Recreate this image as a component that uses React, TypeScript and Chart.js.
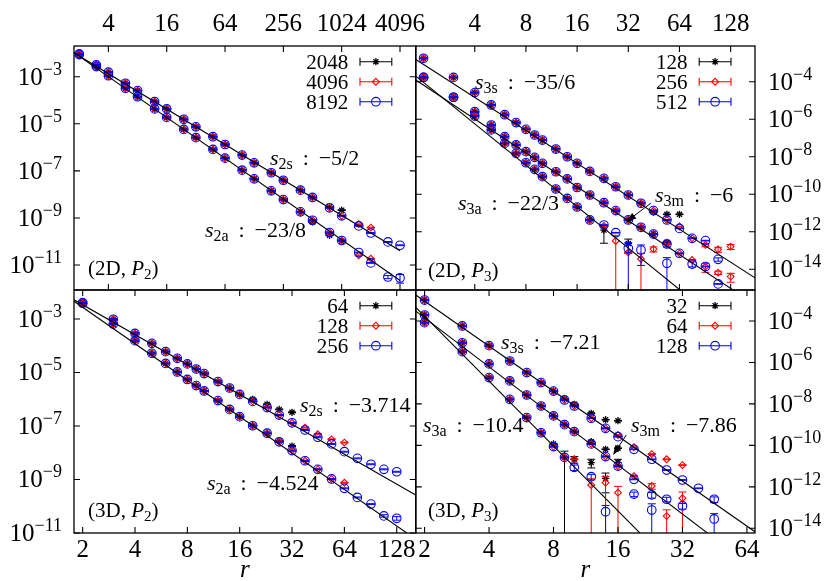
import React, { useEffect, useRef } from 'react';
import { Chart, registerables } from 'chart.js';

Chart.register(...registerables);

const FONT = '"Liberation Serif", "DejaVu Serif", serif';
const W = 830;
const H = 581;

// ---------------- axis ranges & tick labels ----------------
const tlXRange = [1.766, 5963];
const tlYExp = [-12.062, -1.696];
const trXRange = [1.80, 178];
const trYExp = [-15.103, -2.097];
const blXRange = [1.783, 164.8];
const blYExp = [-11.0, -1.916];
const brXRange = [1.82, 69.8];
const brYExp = [-14.227, -2.505];

const tlXTicks = [4, 16, 64, 256, 1024, 4096];
const trXTicks = [4, 8, 16, 32, 64, 128];
const blXTicks = [2, 4, 8, 16, 32, 64, 128];
const brXTicks = [2, 4, 8, 16, 32, 64];
const leftYExps = [-3, -5, -7, -9, -11];
const rightYExps = [-4, -6, -8, -10, -12, -14];

const tlSizes = ['2048', '4096', '8192'];
const trSizes = ['128', '256', '512'];
const blSizes = ['64', '128', '256'];
const brSizes = ['32', '64', '128'];

// ---------------- data (log10 of the plotted value) ----------------
// (2D, P2)
const rTL = [2, 3, 4, 6, 8, 12, 16, 24, 32, 48, 64, 96, 128, 192, 256, 384, 512, 768, 1024, 1536, 2048, 3072, 4096];
const tlS8192 = [-2.03, -2.50, -2.81, -3.28, -3.59, -4.06, -4.37, -4.81, -5.13, -5.55, -5.88, -6.33, -6.66, -7.08, -7.40, -7.82, -8.13, -8.57, -8.91, -9.34, -9.64, -10.02, -10.16];
const tlS4096 = [-2.03, -2.50, -2.81, -3.28, -3.59, -4.06, -4.37, -4.81, -5.13, -5.55, -5.88, -6.33, -6.66, -7.08, -7.40, -7.82, -8.13, -8.57, -8.91, -9.27, -9.41, null, null];
const tlS2048 = [-2.03, -2.50, -2.81, -3.28, -3.59, -4.06, -4.37, -4.81, -5.13, -5.55, -5.88, -6.33, -6.66, -7.08, -7.40, -7.82, -8.13, -8.53, -8.67, null, null, null, null];
const tlA8192 = [-2.06, -2.57, -2.96, -3.49, -3.85, -4.37, -4.73, -5.24, -5.59, -6.09, -6.46, -6.97, -7.34, -7.85, -8.22, -8.74, -9.10, -9.62, -9.96, -10.47, -10.91, -11.51, -11.55];
const tlA4096 = [-2.06, -2.57, -2.96, -3.49, -3.85, -4.37, -4.73, -5.24, -5.59, -6.09, -6.46, -6.97, -7.34, -7.85, -8.22, -8.74, -9.10, -9.62, -9.96, -10.59, -10.73, null, null];
const tlA2048 = [-2.06, -2.57, -2.96, -3.49, -3.85, -4.37, -4.73, -5.24, -5.59, -6.09, -6.46, -6.97, -7.34, -7.85, -8.22, -8.74, -9.17, -9.74, -9.98, null, null, null, null];
const tlA8192Err = [[3072, 0.15], [4096, 0.4]];
const tlSlopes = [-5 / 2, -23 / 8];
const tlAmps = [-1.365, -1.27];

// (2D, P3)
const rTR = [2, 3, 4, 5, 6, 7, 8, 9, 10, 12, 14, 16, 19, 23, 27, 32, 38, 45, 54, 64, 76, 91, 108, 128];
const trS512 = [-2.75, -3.77, -4.58, -5.24, -5.76, -6.18, -6.54, -6.84, -7.11, -7.59, -8.00, -8.35, -8.78, -9.15, -9.60, -10.04, -10.48, -10.87, -11.37, -11.82, -12.35, -12.47, -13.47, null];
const trS256 = [-2.75, -3.77, -4.58, -5.24, -5.76, -6.18, -6.54, -6.84, -7.11, -7.59, -8.00, -8.35, -8.78, -9.15, -9.60, -10.04, -10.48, -10.87, -11.37, -11.72, -12.35, -12.70, -12.94, -12.79];
const trS128 = [-2.75, -3.77, -4.58, -5.24, -5.76, -6.18, -6.54, -6.84, -7.11, -7.59, -8.00, -8.35, -8.78, -9.15, -9.60, -10.04, -10.48, -10.95, -11.07, -11.07, null, null, null, null];
const trM512 = [-3.77, -4.83, -5.60, -6.31, -6.93, -7.37, -7.73, -8.03, -8.35, -8.80, -9.18, -9.64, -10.04, -10.45, -10.87, -11.37, -11.76, -12.12, -12.65, -13.15, -13.72, -13.85, -14.78, null];
const trM256 = [-3.77, -4.83, -5.60, -6.31, -6.93, -7.37, -7.73, -8.03, -8.35, -8.80, -9.18, -9.64, -10.04, -10.45, -10.87, -11.37, -11.76, -12.12, -12.65, -13.15, -13.50, -13.86, -14.18, -14.39];
const trM128 = [-3.77, -4.83, -5.60, -6.31, -6.93, -7.37, -7.73, -8.03, -8.35, -8.80, -9.18, -9.64, -10.04, -10.45, -10.87, -11.37, -11.76, -12.12, -12.56, null, null, null, null, null];
const trA512 = [-3.77, -4.83, -5.83, -6.57, -7.29, -7.82, -8.32, -8.67, -9.06, -9.72, -10.22, -10.68, -11.37, -11.64, -12.05, -12.88, -12.97, null, -13.68, null, null, null, null, null];
const trA256 = [-3.77, -4.83, -5.83, -6.57, -7.29, -7.82, -8.32, -8.67, -9.06, -9.72, -10.22, -10.68, -11.37, -11.69, -12.49, -13.10, -13.45, -12.92, null, null, null, null, null, null];
const trA128 = [-3.77, -4.83, -5.83, -6.57, -7.29, -7.82, -8.32, -8.67, -9.06, -9.72, -10.22, -10.68, -11.37, -11.91, null, -12.62, null, null, null, null, null, null, null, null];
const trS512Err = [[108, 0.2]];
const trS256Err = [[91, 0.2], [108, 0.3], [128, 0.3]];
const trM512Err = [[54, 0.3], [76, 0.3]];
const trM256Err = [[91, 0.5], [108, 0.2], [128, 0.5]];
const trA512Err = [[32, 1.0], [38, 0.85], [54, 1.0]];
const trA256Err = [[27, 1.0], [38, 1.0], [45, 0.3]];
const trA128Err = [[23, 0.8], [32, 0.7]];
const trSlopes = [-35 / 6, -6, -22 / 3];
const trAmps = [-1.327, -2.376, -1.83];

// (3D, P2)
const rBL = [2, 3, 4, 5, 6, 7, 8, 9, 10, 12, 14, 16, 19, 23, 27, 32, 38, 45, 54, 64, 76, 91, 108, 128];
const blS256 = [-2.39, -3.01, -3.54, -3.91, -4.22, -4.47, -4.68, -4.87, -5.04, -5.34, -5.58, -5.82, -6.08, -6.31, -6.59, -6.88, -7.15, -7.42, -7.67, -7.96, -8.21, -8.43, -8.62, -8.71];
const blS128 = [-2.39, -3.01, -3.54, -3.91, -4.22, -4.47, -4.68, -4.87, -5.04, -5.34, -5.58, -5.82, -6.08, -6.31, -6.59, -6.88, -7.06, -7.31, -7.50, -7.62, null, null, null, null];
const blS64 = [-2.39, -3.01, -3.54, -3.91, -4.22, -4.47, -4.68, -4.87, -5.04, -5.34, -5.58, -5.82, -6.00, -6.19, -6.38, -6.49, null, null, null, null, null, null, null, null];
const blA256 = [-2.41, -3.19, -3.81, -4.28, -4.66, -4.98, -5.26, -5.49, -5.69, -6.05, -6.38, -6.65, -6.99, -7.27, -7.59, -7.92, -8.30, -8.62, -8.98, -9.33, -9.67, -9.92, -10.36, -10.45];
const blA128 = [-2.41, -3.19, -3.81, -4.28, -4.66, -4.98, -5.26, -5.49, -5.69, -6.05, -6.38, -6.65, -6.99, -7.27, -7.59, -7.92, -8.30, -8.62, -8.98, -9.12, null, null, null, null];
const blA64 = [-2.41, -3.19, -3.81, -4.28, -4.66, -4.98, -5.26, -5.49, -5.69, -6.05, -6.38, -6.65, -6.99, -7.27, -7.55, -7.75, null, null, null, null, null, null, null, null];
const blA256Err = [[108, 0.1], [128, 0.15]];
const blSlopes = [-3.714, -4.524];
const blAmps = [-1.348, -1.203];

// (3D, P3)
const rBR = [2, 3, 4, 5, 6, 7, 8, 9, 10, 12, 14, 16, 19, 23, 27, 32, 38, 45];
const brS128 = [-2.99, -4.24, -5.19, -5.93, -6.49, -6.97, -7.38, -7.81, -8.10, -8.69, -9.18, -9.58, -10.19, -10.67, -11.19, -11.67, -12.07, -12.60];
const brS64 = [-2.99, -4.24, -5.19, -5.93, -6.49, -6.97, -7.38, -7.81, -8.10, -8.69, -9.18, -9.50, -10.09, -10.42, -10.67, -10.95, null, null];
const brS32 = [-2.99, -4.24, -5.19, -5.93, -6.49, -6.97, -7.38, -7.75, -8.02, -8.45, -8.76, -8.81, null, null, null, null, null, null];
const brM128 = [-3.71, -5.05, -6.07, -6.89, -7.57, -8.10, -8.58, -9.00, -9.34, -9.93, -10.54, -11.00, -11.64, -12.39, -12.60, -12.92, null, -13.55];
const brM64 = [-3.71, -5.05, -6.07, -6.89, -7.57, -8.10, -8.58, -9.00, -9.34, -9.93, -10.54, -11.00, -11.48, -11.96, -13.41, -12.55, null, null];
const brM32 = [-3.71, -5.05, -6.07, -6.89, -7.57, -8.10, -8.58, -9.00, -9.34, -9.82, -10.19, -10.14, null, null, null, null, null, null];
const brA128 = [-4.08, -5.48, -6.73, -7.78, -8.66, -9.39, -10.06, -10.58, -11.06, -11.51, -13.20, null, -12.35, -13.12, null, null, null, null];
const brA64 = [-4.08, -5.48, -6.73, -7.78, -8.66, -9.39, -10.06, -10.58, -10.67, -11.91, -11.80, -12.28, null, null, null, null, null, null];
const brA32 = [-4.08, -5.48, -6.73, -7.78, -8.66, -9.39, -9.93, -10.58, -10.67, -10.83, -11.59, -10.82, null, null, null, null, null, null];
const brS128Err = [[45, 0.3]];
const brM128Err = [[23, 0.3], [27, 0.25], [32, 0.3], [45, 0.8]];
const brM64Err = [[23, 0.3], [27, 1.0], [32, 1.0]];
const brA128Err = [[10, 0.3], [12, 0.3], [14, 1.0], [19, 0.25], [23, 1.0]];
const brA64Err = [[12, 1.0], [14, 1.0], [16, 1.0]];
const brA32Err = [[9, 1.0], [10, 0.35], [12, 0.45], [14, 0.8], [16, 0.4]];
const brSlopes = [-7.21, -7.86, -10.4];
const brAmps = [-0.869, -1.482, -0.64];

// ---------------- styles ----------------
const STYLES: any = {
  black: { color: '#000000', pointStyle: 'star', radius: 3.6, lw: 1.3 },
  red: { color: '#ff0000', pointStyle: 'rectRot', radius: 3.4, lw: 1.1 },
  blue: { color: '#0000ff', pointStyle: 'circle', radius: 4.3, lw: 1.1 },
};
const LEGEND_ORDER = ['black', 'red', 'blue'];

const PANELS: any[] = [
  {
    id: 'tl',
    area: { left: 74, right: 415.8, top: 46, bottom: 290 },
    xRange: tlXRange, yExp: tlYExp, r: rTL,
    xTicks: tlXTicks, xSide: 'top', yTicks: leftYExps, ySide: 'left',
    sizes: tlSizes,
    curves: [
      { black: tlS2048, red: tlS4096, blue: tlS8192, errs: {} },
      { black: tlA2048, red: tlA4096, blue: tlA8192, errs: { blue: tlA8192Err } },
    ],
    fits: [
      { slope: tlSlopes[0], amp: tlAmps[0], hi: 4096 },
      { slope: tlSlopes[1], amp: tlAmps[1], hi: 4096 },
    ],
    notes: [
      { sub: '2s', val: '\u22125/2', x: 270, y: 158 },
      { sub: '2a', val: '\u221223/8', x: 205, y: 230 },
    ],
    tag: { dim: '2D', p: '2', x: 88, y: 268 },
    arrows: [],
  },
  {
    id: 'tr',
    area: { left: 415.8, right: 755, top: 46, bottom: 290 },
    xRange: trXRange, yExp: trYExp, r: rTR,
    xTicks: trXTicks, xSide: 'top', yTicks: rightYExps, ySide: 'right',
    sizes: trSizes,
    curves: [
      { black: trS128, red: trS256, blue: trS512, errs: { blue: trS512Err, red: trS256Err } },
      { black: trM128, red: trM256, blue: trM512, errs: { blue: trM512Err, red: trM256Err } },
      { black: trA128, red: trA256, blue: trA512, errs: { blue: trA512Err, red: trA256Err, black: trA128Err } },
    ],
    fits: [
      { slope: trSlopes[0], amp: trAmps[0] },
      { slope: trSlopes[1], amp: trAmps[1] },
      { slope: trSlopes[2], amp: trAmps[2] },
    ],
    notes: [
      { sub: '3s', val: '\u221235/6', x: 475, y: 82 },
      { sub: '3m', val: '\u22126', x: 655, y: 195 },
      { sub: '3a', val: '\u221222/3', x: 458, y: 203 },
    ],
    tag: { dim: '2D', p: '3', x: 428, y: 270 },
    arrows: [{ x1: 650.7, y1: 203.3, x2: 626.3, y2: 221.7 }],
  },
  {
    id: 'bl',
    area: { left: 74, right: 415.8, top: 290, bottom: 533 },
    xRange: blXRange, yExp: blYExp, r: rBL,
    xTicks: blXTicks, xSide: 'bottom', yTicks: leftYExps, ySide: 'left',
    sizes: blSizes,
    curves: [
      { black: blS64, red: blS128, blue: blS256, errs: {} },
      { black: blA64, red: blA128, blue: blA256, errs: { blue: blA256Err } },
    ],
    fits: [
      { slope: blSlopes[0], amp: blAmps[0] },
      { slope: blSlopes[1], amp: blAmps[1] },
    ],
    notes: [
      { sub: '2s', val: '\u22123.714', x: 300, y: 405 },
      { sub: '2a', val: '\u22124.524', x: 207, y: 483 },
    ],
    tag: { dim: '3D', p: '2', x: 88, y: 510 },
    arrows: [],
    axisLabel: true,
  },
  {
    id: 'br',
    area: { left: 415.8, right: 755, top: 290, bottom: 533 },
    xRange: brXRange, yExp: brYExp, r: rBR,
    xTicks: brXTicks, xSide: 'bottom', yTicks: rightYExps, ySide: 'right',
    sizes: brSizes,
    curves: [
      { black: brS32, red: brS64, blue: brS128, errs: { blue: brS128Err } },
      { black: brM32, red: brM64, blue: brM128, errs: { blue: brM128Err, red: brM64Err } },
      { black: brA32, red: brA64, blue: brA128, errs: { blue: brA128Err, red: brA64Err, black: brA32Err } },
    ],
    fits: [
      { slope: brSlopes[0], amp: brAmps[0] },
      { slope: brSlopes[1], amp: brAmps[1] },
      { slope: brSlopes[2], amp: brAmps[2] },
    ],
    notes: [
      { sub: '3s', val: '\u22127.21', x: 501, y: 342 },
      { sub: '3a', val: '\u221210.4', x: 423, y: 425 },
      { sub: '3m', val: '\u22127.86', x: 631, y: 425 },
    ],
    tag: { dim: '3D', p: '3', x: 428, y: 510 },
    arrows: [{ x1: 626.3, y1: 435, x2: 613, y2: 455 }],
    axisLabel: true,
  },
];

// ---------------- drawing helpers ----------------
type Part = { t: string; size: number; italic?: boolean; dy?: number };

function setFont(ctx: CanvasRenderingContext2D, p: Part) {
  ctx.font = `${p.italic ? 'italic ' : ''}${p.size}px ${FONT}`;
}

function drawParts(ctx: CanvasRenderingContext2D, parts: Part[], x: number, y: number, align: string) {
  let w = 0;
  for (const p of parts) {
    setFont(ctx, p);
    w += ctx.measureText(p.t).width;
  }
  let cx = align === 'left' ? x : align === 'right' ? x - w : x - w / 2;
  ctx.textAlign = 'left';
  ctx.textBaseline = 'alphabetic';
  ctx.fillStyle = '#000';
  for (const p of parts) {
    setFont(ctx, p);
    ctx.fillText(p.t, cx, y + (p.dy || 0));
    cx += ctx.measureText(p.t).width;
  }
}

function drawMarker(ctx: CanvasRenderingContext2D, style: string, x: number, y: number, r: number) {
  ctx.beginPath();
  if (style === 'circle') {
    ctx.arc(x, y, r, 0, Math.PI * 2);
  } else if (style === 'rectRot') {
    ctx.moveTo(x - r, y);
    ctx.lineTo(x, y - r);
    ctx.lineTo(x + r, y);
    ctx.lineTo(x, y + r);
    ctx.closePath();
  } else {
    const d = r * Math.SQRT1_2;
    ctx.moveTo(x - r, y); ctx.lineTo(x + r, y);
    ctx.moveTo(x, y - r); ctx.lineTo(x, y + r);
    ctx.moveTo(x - d, y - d); ctx.lineTo(x + d, y + d);
    ctx.moveTo(x - d, y + d); ctx.lineTo(x + d, y - d);
  }
  ctx.stroke();
}

function makePlugin(p: any) {
  return {
    id: 'decor_' + p.id,
    afterDatasetDraw(chart: any, args: any) {
      const ds = chart.data.datasets[args.index];
      if (!ds.errColor) return;
      const ctx: CanvasRenderingContext2D = chart.ctx;
      const ys = chart.scales.y;
      const ca = chart.chartArea;
      const cap = 4;
      ctx.save();
      ctx.beginPath();
      ctx.rect(ca.left, ca.top, ca.right - ca.left, ca.bottom - ca.top);
      ctx.clip();
      ctx.strokeStyle = ds.errColor;
      ctx.lineWidth = 1;
      ds.data.forEach((d: any, i: number) => {
        const el = args.meta.data[i];
        if (!el) return;
        const x = el.x;
        const yHi = ys.getPixelForValue(d.y * (1 + d.e));
        const toBottom = d.e >= 1;
        const yLo = toBottom ? ca.bottom + 4 : ys.getPixelForValue(d.y * (1 - d.e));
        ctx.beginPath();
        ctx.moveTo(x, yHi); ctx.lineTo(x, yLo);
        ctx.moveTo(x - cap, yHi); ctx.lineTo(x + cap, yHi);
        if (!toBottom) { ctx.moveTo(x - cap, yLo); ctx.lineTo(x + cap, yLo); }
        ctx.stroke();
      });
      ctx.restore();
    },
    afterDraw(chart: any) {
      const ctx: CanvasRenderingContext2D = chart.ctx;
      const ca = chart.chartArea;
      const xs = chart.scales.x;
      const ys = chart.scales.y;
      ctx.save();
      // frame
      ctx.strokeStyle = '#000';
      ctx.lineWidth = 1.3;
      ctx.strokeRect(ca.left, ca.top, ca.right - ca.left, ca.bottom - ca.top);
      // ticks
      const tl = 6;
      ctx.lineWidth = 1.1;
      ctx.beginPath();
      for (const t of p.xTicks) {
        const x = xs.getPixelForValue(t);
        ctx.moveTo(x, ca.top); ctx.lineTo(x, ca.top + tl);
        ctx.moveTo(x, ca.bottom); ctx.lineTo(x, ca.bottom - tl);
      }
      for (const e of p.yTicks) {
        const y = ys.getPixelForValue(Math.pow(10, e));
        ctx.moveTo(ca.left, y); ctx.lineTo(ca.left + tl, y);
        ctx.moveTo(ca.right, y); ctx.lineTo(ca.right - tl, y);
      }
      ctx.stroke();
      // x tick labels
      for (const t of p.xTicks) {
        const x = xs.getPixelForValue(t);
        const by = p.xSide === 'top' ? 31 : 557;
        drawParts(ctx, [{ t: String(t), size: 25 }], x, by, 'center');
      }
      // y tick labels
      for (const e of p.yTicks) {
        const y = ys.getPixelForValue(Math.pow(10, e));
        const parts: Part[] = [{ t: '10', size: 25 }, { t: '\u2212' + Math.abs(e), size: 18, dy: -10 }];
        if (p.ySide === 'left') drawParts(ctx, parts, ca.left - 12, y + 8, 'right');
        else drawParts(ctx, parts, ca.right + 13, y + 8, 'left');
      }
      // legend
      const tx = ca.right - 67.5;
      const lx1 = ca.right - 55.8;
      const lx2 = ca.right - 24;
      p.sizes.forEach((s: string, i: number) => {
        const y = ca.top + 15.7 + 20 * i;
        drawParts(ctx, [{ t: s, size: 21 }], tx, y + 7, 'right');
        const st = STYLES[LEGEND_ORDER[i]];
        ctx.strokeStyle = st.color;
        ctx.lineWidth = 1.1;
        ctx.beginPath();
        ctx.moveTo(lx1, y); ctx.lineTo(lx2, y);
        ctx.moveTo(lx1, y - 4); ctx.lineTo(lx1, y + 4);
        ctx.moveTo(lx2, y - 4); ctx.lineTo(lx2, y + 4);
        ctx.stroke();
        ctx.lineWidth = st.lw;
        drawMarker(ctx, st.pointStyle, (lx1 + lx2) / 2, y, st.radius);
      });
      // annotations
      for (const n of p.notes) {
        drawParts(ctx, [
          { t: 's', size: 22, italic: true },
          { t: n.sub, size: 16, dy: 4 },
          { t: ' \u2009: \u2009' + n.val, size: 22 },
        ], n.x, n.y + 7, 'left');
      }
      drawParts(ctx, [
        { t: '(' + p.tag.dim + ', ', size: 21 },
        { t: 'P', size: 21, italic: true },
        { t: p.tag.p, size: 15, dy: 4 },
        { t: ')', size: 21 },
      ], p.tag.x, p.tag.y + 7, 'left');
      // arrows
      ctx.strokeStyle = '#000';
      ctx.fillStyle = '#000';
      ctx.lineWidth = 1;
      for (const a of p.arrows) {
        const ang = Math.atan2(a.y2 - a.y1, a.x2 - a.x1);
        const hl = 10, hw = 3.5;
        ctx.beginPath();
        ctx.moveTo(a.x1, a.y1);
        ctx.lineTo(a.x2 - Math.cos(ang) * hl * 0.8, a.y2 - Math.sin(ang) * hl * 0.8);
        ctx.stroke();
        ctx.beginPath();
        ctx.moveTo(a.x2, a.y2);
        ctx.lineTo(a.x2 - Math.cos(ang) * hl - Math.sin(ang) * hw, a.y2 - Math.sin(ang) * hl + Math.cos(ang) * hw);
        ctx.lineTo(a.x2 - Math.cos(ang) * hl + Math.sin(ang) * hw, a.y2 - Math.sin(ang) * hl - Math.cos(ang) * hw);
        ctx.closePath();
        ctx.fill();
      }
      // axis title
      if (p.axisLabel) {
        drawParts(ctx, [{ t: 'r', size: 25, italic: true }], (ca.left + ca.right) / 2, 577, 'center');
      }
      ctx.restore();
    },
  };
}

function buildConfig(p: any) {
  const datasets: any[] = [];
  for (const f of p.fits) {
    const lo = p.xRange[0];
    const hi = f.hi || p.xRange[1];
    datasets.push({
      data: [lo, hi].map((x: number) => ({ x, y: Math.pow(10, f.amp + f.slope * Math.log10(x)) })),
      showLine: true,
      borderColor: '#000',
      borderWidth: 1.1,
      pointRadius: 0,
      clip: 0,
      fill: false,
      tension: 0,
    });
  }
  for (const col of ['blue', 'red', 'black']) {
    const st = STYLES[col];
    for (const c of p.curves) {
      const vals = c[col];
      const errs = (c.errs && c.errs[col]) || [];
      const data: any[] = [];
      p.r.forEach((x: number, i: number) => {
        const v = vals[i];
        if (v === null || v === undefined) return;
        const ep = errs.find((e: number[]) => e[0] === x);
        data.push({ x, y: Math.pow(10, v), e: ep ? ep[1] : 0.04 });
      });
      datasets.push({
        data,
        showLine: false,
        pointStyle: st.pointStyle,
        pointRadius: st.radius,
        pointBorderWidth: st.lw,
        borderColor: st.color,
        backgroundColor: 'rgba(0,0,0,0)',
        pointBackgroundColor: 'rgba(0,0,0,0)',
        errColor: st.color,
      });
    }
  }
  return {
    type: 'scatter',
    data: { datasets },
    options: {
      responsive: false,
      animation: false,
      events: [],
      layout: {
        padding: { left: p.area.left, right: W - p.area.right, top: p.area.top, bottom: H - p.area.bottom },
      },
      plugins: { legend: { display: false }, tooltip: { enabled: false } },
      scales: {
        x: { type: 'logarithmic', display: false, min: p.xRange[0], max: p.xRange[1] },
        y: { type: 'logarithmic', display: false, min: Math.pow(10, p.yExp[0]), max: Math.pow(10, p.yExp[1]) },
      },
    },
    plugins: [makePlugin(p)],
  };
}

function Panel({ def }: { def: any }) {
  const ref = useRef<HTMLCanvasElement>(null);
  useEffect(() => {
    const chart = new Chart(ref.current as HTMLCanvasElement, buildConfig(def) as any);
    return () => chart.destroy();
  }, [def]);
  return (
    <canvas
      ref={ref}
      width={W}
      height={H}
      style={{ position: 'absolute', left: 0, top: 0, width: W, height: H }}
    />
  );
}

export default function App() {
  return (
    <div style={{ position: 'absolute', left: 0, top: 0, width: W, height: H, background: '#ffffff', overflow: 'hidden' }}>
      {PANELS.map((p) => (
        <Panel key={p.id} def={p} />
      ))}
    </div>
  );
}
